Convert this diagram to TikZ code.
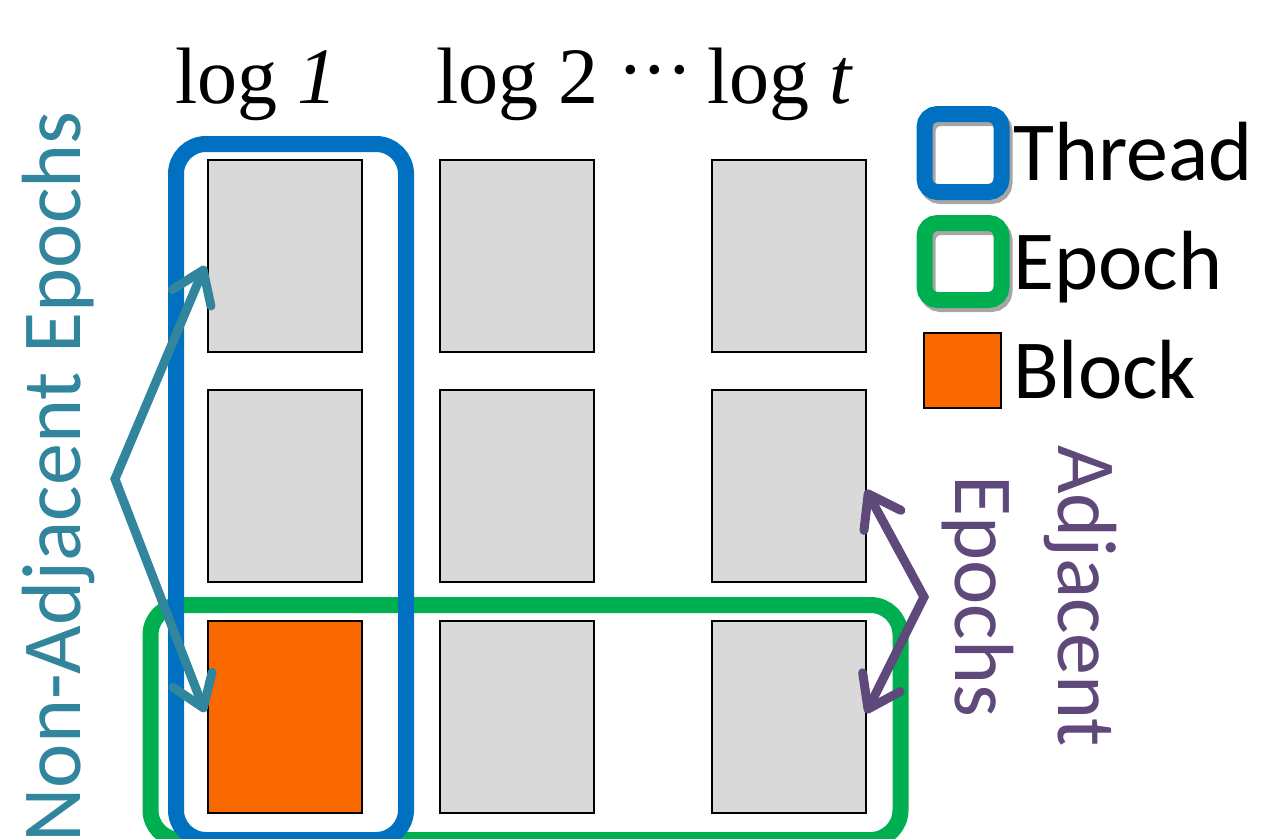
\documentclass[tikz,border=0pt]{standalone}
\usepackage{fontspec}
\setmainfont{Liberation Serif}
\newfontfamily\calfont{Carlito}
\usetikzlibrary{arrows.meta}

\definecolor{threadblue}{HTML}{0070C0}
\definecolor{epochgreen}{HTML}{00B050}
\definecolor{blockorange}{HTML}{F96900}
\definecolor{cellgray}{HTML}{D9D9D9}
\definecolor{shadowgray}{HTML}{A6A6A6}
\definecolor{tealc}{HTML}{31859C}
\definecolor{purp}{HTML}{5F497A}

\tikzset{
  cell/.style={draw=black, line width=2pt, fill=cellgray,
    minimum width=154pt, minimum height=192pt, inner sep=0pt},
  hotcell/.style={cell, fill=blockorange},
  loglabel/.style={font=\fontsize{80}{80}\selectfont, inner sep=0pt, anchor=base west},
  caltext/.style={font=\calfont\fontsize{84}{84}\selectfont, inner sep=0pt},
  frame/.style={line width=16pt, rounded corners=30pt},
  keybox/.style={line width=16pt, rounded corners=13pt},
  pointer/.style={line width=9pt, line join=miter,
    arrows={Straight Barb[round,length=30pt,width=42pt]-Straight Barb[round,length=30pt,width=42pt]}}
}

\begin{document}
\begin{tikzpicture}[x=1pt, y=-1pt]
\useasboundingbox (0,0) rectangle (1268,838);

% column headers
\node[loglabel] (h1) at (175,103) {log \textit{1}};
\node[loglabel] (h2) at (436,103) {log 2};
\node[inner sep=0pt, anchor=base, font=\fontsize{80}{80}\selectfont] (hdots) at (655,96) {·\hspace{-2pt}·\hspace{-2pt}·};
\node[loglabel] (h3) at (707,103) {log \textit{t}};

% epoch and thread outlines
\draw[frame, epochgreen] (150.5,605) rectangle (900.5,840);
\draw[frame, threadblue] (176,144) rectangle (406,840);

% log blocks
\node[cell]    (b11) at (285,256)   {};
\node[cell]    (b12) at (516.5,256) {};
\node[cell]    (b13) at (788.5,256) {};
\node[cell]    (b21) at (285,486)   {};
\node[cell]    (b22) at (516.5,486) {};
\node[cell]    (b23) at (788.5,486) {};
\node[hotcell] (b31) at (285,716.5) {};
\node[cell]    (b32) at (516.5,716.5) {};
\node[cell]    (b33) at (788.5,716.5) {};

% non-adjacent epochs pointer
\coordinate (nv) at (115,479);
\coordinate (nt1) at (205,266);
\coordinate (nt2) at (205,712);
\draw[pointer, tealc] (nt1) -- (nv) -- (nt2);
\node[caltext, rotate=90, anchor=base east, text=tealc] (nlab) at (80,111) {Non-Adjacent Epochs};

% adjacent epochs pointer
\coordinate (av) at (924,597);
\coordinate (at1) at (866,490);
\coordinate (at2) at (866,713);
\draw[pointer, purp] (at1) -- (av) -- (at2);
\node[caltext, rotate=-90, anchor=base west, text=purp] (alab1) at (1058,445) {Adjacent};
\node[caltext, rotate=-90, anchor=base west, text=purp] (alab2) at (955,475) {Epochs};

% legend
\draw[keybox, shadowgray] (927.5,118) rectangle (1004.5,196);
\draw[keybox, threadblue] (924.5,114) rectangle (1001.5,192);
\draw[keybox, shadowgray] (927.5,227) rectangle (1004.5,304);
\draw[keybox, epochgreen] (924.5,223) rectangle (1001.5,300);
\node[draw=black, line width=2pt, fill=blockorange, minimum width=77pt,
  minimum height=75pt, inner sep=0pt] (kblock) at (962.5,370.5) {};
\node[caltext, anchor=base west] (kthread) at (1013,180) {Thread};
\node[caltext, anchor=base west] (kepoch)  at (1013,289) {Epoch};
\node[caltext, anchor=base west] (kblk)    at (1013,398) {Block};
\end{tikzpicture}
\end{document}
